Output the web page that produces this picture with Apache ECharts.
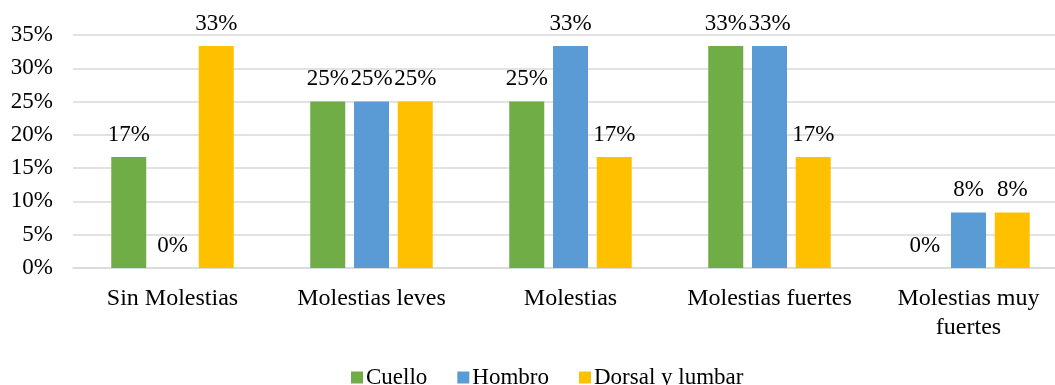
<!DOCTYPE html>
<html>
<head>
<meta charset="utf-8">
<script src="https://cdn.jsdelivr.net/npm/echarts@6/dist/echarts.min.js"></script>
<style>
  html, body { margin: 0; padding: 0; background: #fff; overflow: hidden; }
  /* the plot runs slightly past the right edge of the window */
  #chart { width: 1068px; height: 385px; }
</style>
</head>
<body>
<div id="chart"></div>
<script>
// Categories and percentage values per body zone
const categories = ['Sin Molestias', 'Molestias leves', 'Molestias', 'Molestias fuertes', 'Molestias muy\nfuertes'];
const cuello = [16.67, 25, 25, 33.33, 0];
const hombro = [0, 25, 33.33, 33.33, 8.33];
const dorsalLumbar = [33.33, 25, 16.67, 16.67, 8.33];
const seriesNames = ['Cuello', 'Hombro', 'Dorsal y lumbar'];
const colors = ['#70AD47', '#5B9BD5', '#FFC000'];

const font = 'Liberation Serif, Times New Roman, serif';
const chart = echarts.init(document.getElementById('chart'));

function makeSeries(name, data, color) {
  return {
    name: name,
    type: 'bar',
    data: data,
    barWidth: 35,
    barGap: '25%',
    itemStyle: { color: color },
    label: {
      show: true,
      position: 'top',
      distance: 11,
      color: '#000',
      fontFamily: font,
      fontSize: 23,
      formatter: p => Math.round(p.value) + '%'
    }
  };
}

chart.setOption({
  animation: false,
  grid: { left: 73, right: 0, top: 35, bottom: 117 },
  legend: {
    data: seriesNames,
    bottom: -9,
    left: 346,
    icon: 'rect',
    itemWidth: 12,
    itemHeight: 12,
    itemGap: 30,
    textStyle: { color: '#000', fontFamily: font, fontSize: 23, padding: [0, 0, 0, -2] }
  },
  xAxis: {
    type: 'category',
    data: categories,
    axisLine: { lineStyle: { color: '#D9D9D9', width: 1.5 } },
    axisTick: { show: false },
    axisLabel: {
      interval: 0,
      hideOverlap: false,
      color: '#000',
      fontFamily: font,
      fontSize: 24,
      margin: 16,
      lineHeight: 29
    }
  },
  yAxis: {
    type: 'value',
    min: 0,
    max: 35,
    interval: 5,
    axisLine: { show: false },
    axisTick: { show: false },
    splitLine: { lineStyle: { color: '#D9D9D9', width: 1.5 } },
    axisLabel: {
      color: '#000',
      fontFamily: font,
      fontSize: 23,
      margin: 20,
      formatter: v => v + '%'
    }
  },
  series: [
    makeSeries(seriesNames[0], cuello, colors[0]),
    makeSeries(seriesNames[1], hombro, colors[1]),
    makeSeries(seriesNames[2], dorsalLumbar, colors[2])
  ]
});
</script>
</body>
</html>
